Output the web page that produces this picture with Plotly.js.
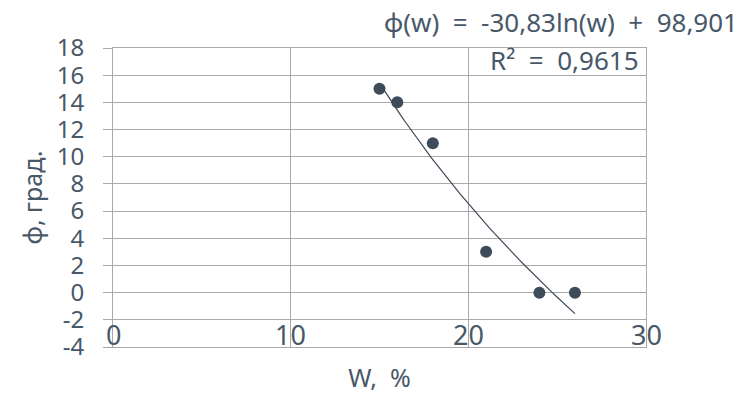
<!DOCTYPE html>
<html>
<head>
<meta charset="utf-8">
<script src="https://cdn.plot.ly/plotly-3.0.1.min.js"></script>
<style>html,body{margin:0;padding:0;background:#fff;}#chart{width:744px;height:397px;}</style>
</head>
<body>
<div id="chart"></div>
<script>
// Data
const wValues = [15, 16, 18, 21, 24, 26];
const phiValues = [15, 14, 11, 3, 0, 0];
// Logarithmic trendline coefficients shown on the chart: phi = a*ln(w) + b
const trendA = -30.83;
const trendB = 98.901;
const equationText = "ф(w)\u00a0\u00a0=\u00a0\u00a0-30,83ln(w)\u00a0\u00a0+\u00a0\u00a098,901";
const r2Text = "R²\u00a0\u00a0=\u00a0\u00a00,9615";
const xTickVals = [0, 10, 20, 30];
const yTickVals = [-4, -2, 0, 2, 4, 6, 8, 10, 12, 14, 16, 18];
const xTickLabelLevel = -3.1;

const trendX = [];
const trendY = [];
const xMin = Math.min(...wValues), xMax = Math.max(...wValues);
for (let i = 0; i <= 60; i++) {
  const x = xMin + (xMax - xMin) * i / 60;
  trendX.push(x);
  trendY.push(trendA * Math.log(x) + trendB);
}

const textColor = '#485869';
const gridColor = '#a9a9a9';
const fontFamily = '"Noto Sans", "DejaVu Sans", sans-serif';

const traces = [
  {x: wValues, y: phiValues, type: 'scatter', mode: 'markers',
   marker: {color: '#3e4b59', size: 12}, hoverinfo: 'x+y', showlegend: false},
  {x: trendX, y: trendY, type: 'scatter', mode: 'lines',
   line: {color: '#3e4b59', width: 1.2}, hoverinfo: 'skip', showlegend: false}
];

const annotations = xTickVals.map(v => ({
  text: String(v), xref: 'x', yref: 'y', x: v, y: xTickLabelLevel,
  xanchor: 'center', yanchor: 'middle', showarrow: false,
  font: {size: 27, color: textColor}
}));

const layout = {
  width: 744, height: 397,
  margin: {l: 113, r: 98, t: 48, b: 50},
  paper_bgcolor: '#ffffff', plot_bgcolor: '#ffffff',
  font: {family: fontFamily, size: 24, color: textColor},
  showlegend: false,
  xaxis: {
    range: [0, 30], tickvals: xTickVals, showticklabels: false,
    showgrid: true, gridcolor: gridColor, gridwidth: 1,
    zeroline: false, showline: true, linecolor: gridColor, mirror: true,
    ticks: '',
    title: {text: 'W,\u00a0\u00a0%', font: {size: 25, color: textColor}, standoff: 22}
  },
  yaxis: {
    range: [-4, 18], tickvals: yTickVals, ticktext: yTickVals.map(String),
    showgrid: true, gridcolor: gridColor, gridwidth: 1,
    zeroline: false, showline: true, linecolor: gridColor, mirror: true,
    ticks: 'outside', ticklen: 9, tickcolor: gridColor, ticklabelstandoff: 14,
    tickfont: {size: 24, color: textColor},
    title: {text: 'ф, град.', font: {size: 25, color: textColor}, standoff: 6}
  },
  annotations: annotations
};
// extra text annotations positioned in pixels, converted to paper coordinates
const pw = 744 - 113 - 98, ph = 397 - 48 - 50;
[[equationText, 561, 22], [r2Text, 564, 60]].forEach(([t, px, py]) => {
  layout.annotations.push({
    text: t, xref: 'paper', yref: 'paper',
    x: (px - 113) / pw, y: (397 - 50 - py) / ph,
    xanchor: 'center', yanchor: 'middle', showarrow: false,
    font: {size: 26, color: textColor}
  });
});

Plotly.newPlot('chart', traces, layout, {displayModeBar: false, staticPlot: true});
</script>
</body>
</html>
